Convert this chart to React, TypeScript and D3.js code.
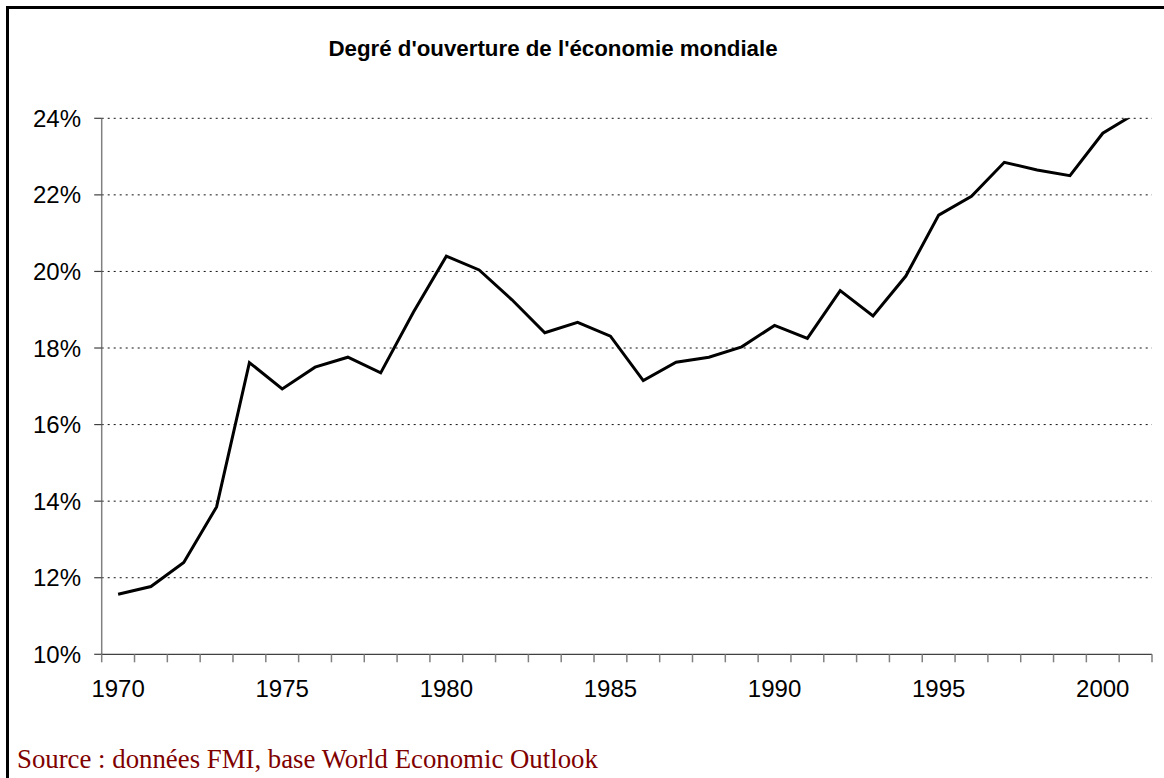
import React from "react";
import * as d3 from "d3";

const title = "Degré d'ouverture de l'économie mondiale";
const source = "Source : données FMI, base World Economic Outlook";

const years: number[] = [
  1970, 1971, 1972, 1973, 1974, 1975, 1976, 1977, 1978, 1979,
  1980, 1981, 1982, 1983, 1984, 1985, 1986, 1987, 1988, 1989,
  1990, 1991, 1992, 1993, 1994, 1995, 1996, 1997, 1998, 1999,
  2000, 2001,
];

const openness: number[] = [
  11.57, 11.77, 12.4, 13.85, 17.62, 16.93, 17.5, 17.76, 17.35, 18.94,
  20.4, 20.04, 19.26, 18.4, 18.67, 18.31, 17.15, 17.63, 17.76, 18.03,
  18.59, 18.25, 19.5, 18.84, 19.88, 21.47, 21.96, 22.85, 22.65, 22.5,
  23.61, 24.13,
];

const yTicks: number[] = [10, 12, 14, 16, 18, 20, 22, 24];
const xLabelYears: number[] = [1970, 1975, 1980, 1985, 1990, 1995, 2000];

const W = 1164;
const H = 778;
const left = 101.7;
const right = 1152;
const top = 118.3;
const bottom = 654.3;

export default function App() {
  const x = d3
    .scaleBand<number>()
    .domain(years)
    .range([left, right])
    .paddingInner(0)
    .paddingOuter(0);
  const y = d3.scaleLinear().domain([10, 24]).range([bottom, top]);
  const cx = (yr: number) => (x(yr) as number) + x.bandwidth() / 2;

  const line = d3
    .line<number>()
    .x((_, i) => cx(years[i]))
    .y((v) => y(v));

  const boundaries = years.map((yr) => x(yr) as number).concat([right]);

  return (
    <svg
      width={W}
      height={H}
      style={{ position: "absolute", left: 0, top: 0, background: "#fff" }}
      fontFamily="'Liberation Sans', Arial, sans-serif"
    >
      <defs>
        <clipPath id="plotClip">
          <rect x={left} y={top} width={right - left} height={bottom - top} />
        </clipPath>
      </defs>
      <rect x={0} y={0} width={W} height={H} fill="#fff" />
      {/* frame */}
      <line x1={7.5} y1={6} x2={7.5} y2={H} stroke="#000" strokeWidth={3} />
      <line x1={6} y1={7.5} x2={W} y2={7.5} stroke="#000" strokeWidth={3} />

      <text
        x={553}
        y={56}
        textAnchor="middle"
        fontWeight="bold"
        fontSize={22.3}
        fill="#000"
      >
        {title}
      </text>

      {/* gridlines */}
      {yTicks
        .filter((t) => t > 10)
        .map((t) => (
          <line
            key={"g" + t}
            x1={left}
            x2={right}
            y1={y(t)}
            y2={y(t)}
            stroke="#111"
            strokeWidth={1}
            strokeDasharray="2 4"
          />
        ))}

      {/* y axis */}
      <line x1={left} x2={left} y1={top} y2={bottom} stroke="#808080" strokeWidth={1.5} />
      {yTicks.map((t) => (
        <g key={"yt" + t}>
          <line x1={left - 7.5} x2={left} y1={y(t)} y2={y(t)} stroke="#404040" strokeWidth={1.2} />
          <text x={81} y={y(t) + 8.6} textAnchor="end" fontSize={24} fill="#000">
            {t}%
          </text>
        </g>
      ))}

      {/* x axis */}
      <line x1={left} x2={right} y1={bottom} y2={bottom} stroke="#404040" strokeWidth={1.2} />
      {boundaries.map((bx, i) => (
        <line key={"xt" + i} x1={bx} x2={bx} y1={bottom} y2={bottom + 8} stroke="#808080" strokeWidth={1.5} />
      ))}
      {xLabelYears.map((yr) => (
        <text key={"xl" + yr} x={cx(yr)} y={697} textAnchor="middle" fontSize={24} fill="#000">
          {yr}
        </text>
      ))}

      {/* data line */}
      <path
        d={line(openness) || ""}
        fill="none"
        stroke="#000"
        strokeWidth={3}
        strokeLinejoin="miter"
        clipPath="url(#plotClip)"
      />

      <text
        x={17}
        y={768}
        fontFamily="'Liberation Serif', 'Times New Roman', serif"
        fontSize={26.8}
        fill="#800000"
      >
        {source}
      </text>
    </svg>
  );
}
